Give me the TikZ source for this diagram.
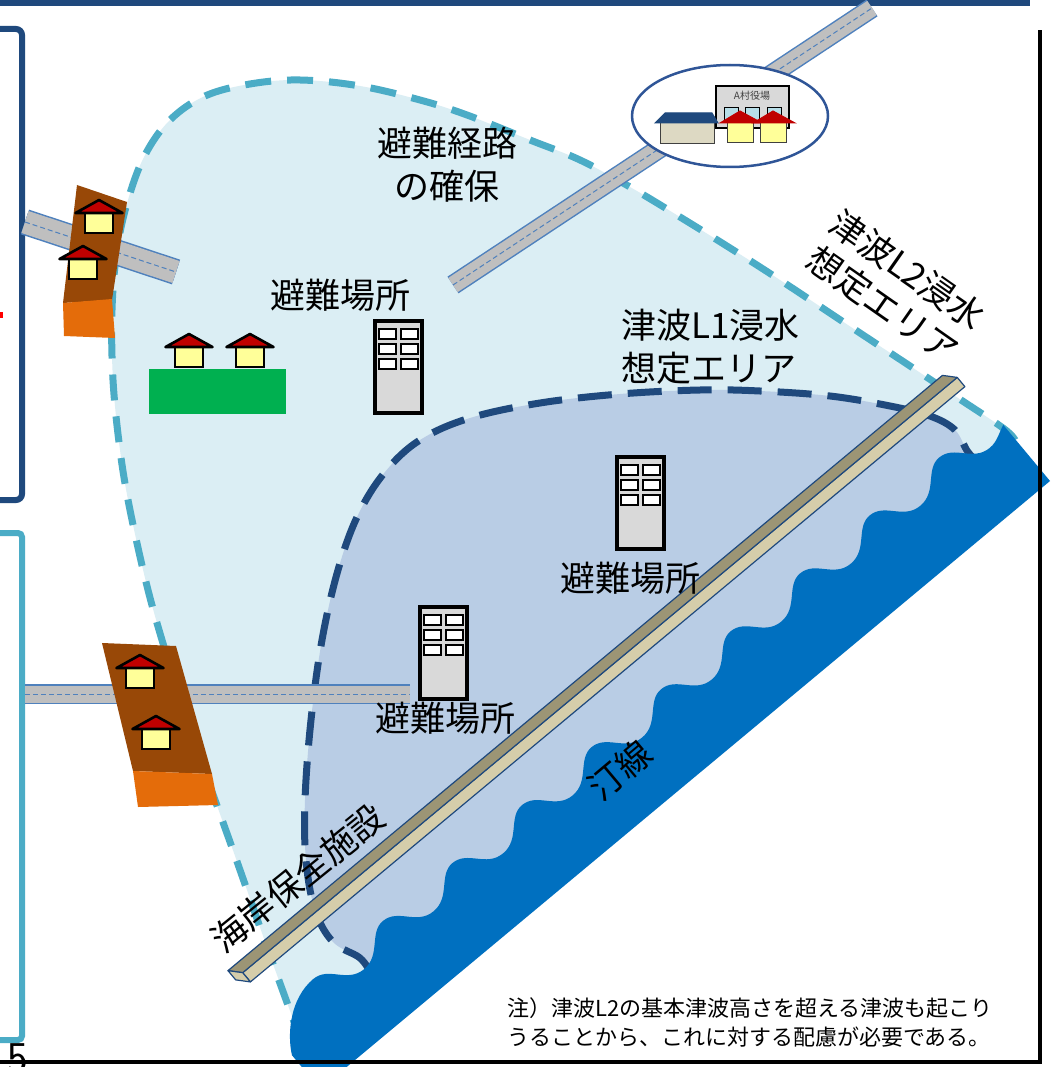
\documentclass[tikz,border=0pt]{standalone}
\usepackage{fontspec}
\newfontfamily\jpfont{Noto Sans CJK JP}
\usetikzlibrary{positioning, calc}

\definecolor{navy}{HTML}{1F497D}
\definecolor{skyfill}{HTML}{DBEEF4}
\definecolor{skyline}{HTML}{4BACC6}
\definecolor{lonefill}{HTML}{B9CDE5}
\definecolor{seablue}{HTML}{0070C0}
\definecolor{grass}{HTML}{00B050}
\definecolor{cliff}{HTML}{984807}
\definecolor{clay}{HTML}{E46C0A}
\definecolor{roadgray}{HTML}{BFBFBF}
\definecolor{roadline}{HTML}{4F81BD}
\definecolor{walltop}{HTML}{9C9575}
\definecolor{wallside}{HTML}{D5CDAA}
\definecolor{roofred}{HTML}{C00000}
\definecolor{wallyellow}{HTML}{FFFF99}
\definecolor{winblue}{HTML}{B7DEE8}
\definecolor{hallgray}{HTML}{D9D9D9}
\definecolor{beige}{HTML}{DDD9C3}
\definecolor{ringblue}{HTML}{2F5597}

\begin{document}
\begin{tikzpicture}[
		x=1pt, y=-1pt,
		label/.style={
			font=\jpfont\fontsize{35}{43}\selectfont,
			inner sep=0pt,
			align=center
		},
		note/.style={
			font=\jpfont\fontsize{22}{29}\selectfont,
			inner sep=0pt,
			align=left
		},
		road/.style={
			line width=17, draw=roadgray,
			preaction={draw=roadline, line width=20},
			postaction={draw=roadline, line width=1, dash pattern=on 5pt off 3pt}
		},
		hut/.pic={
			\filldraw[fill=wallyellow, line width=2.6] (-14,0) rectangle (14,-20);
			\filldraw[fill=roofred, line width=2.6, line join=round] (-23.5,-20) -- (0,-33) -- (23.5,-20) -- cycle;
		},
		tower/.pic={
			\filldraw[fill=hallgray, line width=3.6] (0,0) rectangle (47,92);
			\foreach \r in {0,1,2}
				\foreach \c in {0,1}
					\filldraw[fill=white, line width=1.8] (4+22*\c, 8+15*\r) rectangle ++(17,10);
		}]

	\useasboundingbox (0,0) rectangle (1055,1067);
	\fill[white] (0,0) rectangle (1055,1067);

	%%% Frames of the neighbouring panels
	\draw[navy, line width=7] (-5,3) -- (1030,3);
	\draw[navy, line width=6, rounded corners=6] (-30,29) -- (22,29) -- (22,500) -- (-30,500);
	\draw[skyline, line width=6, rounded corners=4] (-30,533) -- (22,533) -- (22,1040) -- (-30,1040);
	\fill[red] (0,312) rectangle (3,318);
	\node[font=\jpfont\fontsize{20}{20}\selectfont] (stop) at (-6,795) {。};

	%%% L2 area, then L1 area inside it
	\draw[draw=skyline, line width=7, dash pattern=on 26pt off 16pt, fill=skyfill]
		plot[smooth, tension=0.6] coordinates {(1015,440) (1003,428) (955,396) (910,366) (860,333)
			(780,280) (730,248) (680,217) (630,187) (580,160) (530,140) (467,115) (420,100)
			(360,86) (300,80) (250,84) (205,96) (170,120) (145,155) (128,200) (117,250)
			(112,310) (113,380) (120,450) (130,510) (148,590) (168,660) (190,730) (215,800)
			(240,870) (268,950) (297,1030) (302,1045)};
	\draw[draw=navy, line width=7, dash pattern=on 34pt off 16pt, fill=lonefill]
		plot[smooth, tension=0.6] coordinates {(985,470) (968,452) (955,430) (930,416) (890,406)
			(830,396) (760,391) (700,390) (620,394) (540,403) (470,418) (420,440) (385,472)
			(358,515) (338,570) (322,640) (311,720) (305,800) (306,860) (315,910) (333,942)
			(360,958) (372,975)};

	%%% Sea with its wavy shore, and the sea wall
	\begin{scope}[shift={(1050,481)}, rotate=219.8]
		\fill[seablue] (0,0) -- (0,73) .. controls (8,70) and (15,64) .. (25,64)
			\foreach \k in {0,...,8} {
				.. controls +(22,0) and +(-20,0) .. ++(45.25,25)
				.. controls +(18,0) and +(-22,0) .. ++(45.25,-25)
			}
			.. controls +(22,0) and +(-20,0) .. ++(45.25,25)
			.. controls +(30,0) and +(-10,20) .. (950,44) -- (950,0) -- cycle;
		\begin{scope}[draw=navy, line width=1.2, line join=round]
			\filldraw[fill=wallside] (5,127) -- (935,127) -- (935,139) -- (5,139) -- cycle;
			\filldraw[fill=walltop] (5,139) -- (935,139) -- (945,150) -- (15,150) -- cycle;
			\filldraw[fill=wallside] (935,127) -- (945,138) -- (945,150) -- (935,139) -- cycle;
		\end{scope}
	\end{scope}

	%%% Roads
	\coordinate (roadNE) at (872,8);
	\coordinate (roadSW) at (453,285);
	\coordinate (roadWa) at (25,222);
	\coordinate (roadWb) at (176,272);
	\coordinate (roadLa) at (25,694);
	\coordinate (roadLb) at (410,694);
	\draw[road] (roadSW) -- (roadNE);
	\draw[road, line width=23, preaction={draw=roadline, line width=26}] (roadWa) -- (roadWb);
	\draw[road] (roadLa) -- (roadLb);

	%%% Hillside plots with houses
	\fill[cliff] (77,185) -- (127,202) -- (112,300) -- (63,303) -- cycle;
	\fill[clay] (63,303) -- (112,299) -- (115,338) -- (64,336) -- cycle;
	\fill[cliff] (102,643) -- (176,646) -- (212,774) -- (133,771) -- cycle;
	\fill[clay] (133,771) -- (212,774) -- (218,805) -- (138,807) -- cycle;
	\fill[grass] (149,369) rectangle (286,414);
	\foreach \hx/\hy in {99/233, 83/279, 189/367, 250/367, 140/688, 156/749}
		\pic at (\hx,\hy) {hut};

	%%% Shelter buildings
	\pic at (375,321) {tower};
	\pic at (617,457) {tower};
	\pic at (420,607) {tower};

	%%% Village office
	\draw[ringblue, line width=2.5, fill=white] (730,116) ellipse [x radius=98, y radius=51];
	\filldraw[fill=hallgray, line width=1.2] (716,86) rectangle (789,128);
	\node[font=\jpfont\fontsize{10}{10}\selectfont, text=black!75] (hallname) at (752,96) {A村役場};
	\foreach \wx in {724,745,767}
		\filldraw[fill=winblue, line width=0.8] (\wx,107) rectangle ++(14,13);
	\filldraw[fill=beige, draw=black!75, line width=1] (660,123) rectangle (714,144);
	\filldraw[fill=navy, draw=navy, line width=1] (655,123) -- (665,113) -- (712,113) -- (718,123) -- cycle;
	\foreach \ox in {740,773} {
		\filldraw[fill=wallyellow, draw=black!75, line width=1] (\ox-13,123) rectangle (\ox+13,143);
		\filldraw[fill=roofred, draw=roofred, line width=1] (\ox-20,123) -- (\ox,111) -- (\ox+22,123) -- cycle;
	}

	%%% Labels
	\node[label] (route) at (447,165) {避難経路\\の確保};
	\node[label] (shelterA) at (340,295) {避難場所};
	\node[label, align=left, anchor=west] (lonetext) at (621,347) {津波L1浸水\\想定エリア};
	\node[label, rotate=-35] (ltwotext) at (895,287) {津波L2浸水\\想定エリア};
	\node[label] (shelterB) at (630,578) {避難場所};
	\node[label] (shelterC) at (445,718) {避難場所};
	\node[label, rotate=39] (walltext) at (298,878) {海岸保全施設};
	\node[label, rotate=40] (shoretext) at (620,770) {汀線};

	%%% Outer frame and note
	\draw[line width=4] (-5,1062) -- (1040,1062) -- (1040,30);
	\node[note, anchor=north west] (notetext) at (507,997) {注）津波L2の基本津波高さを超える津波も起こり\\うることから、これに対する配慮が必要である。};
	\node[font=\sffamily\fontsize{44}{44}\selectfont, anchor=north] (pagenum) at (18,1040) {5};

\end{tikzpicture}
\end{document}
